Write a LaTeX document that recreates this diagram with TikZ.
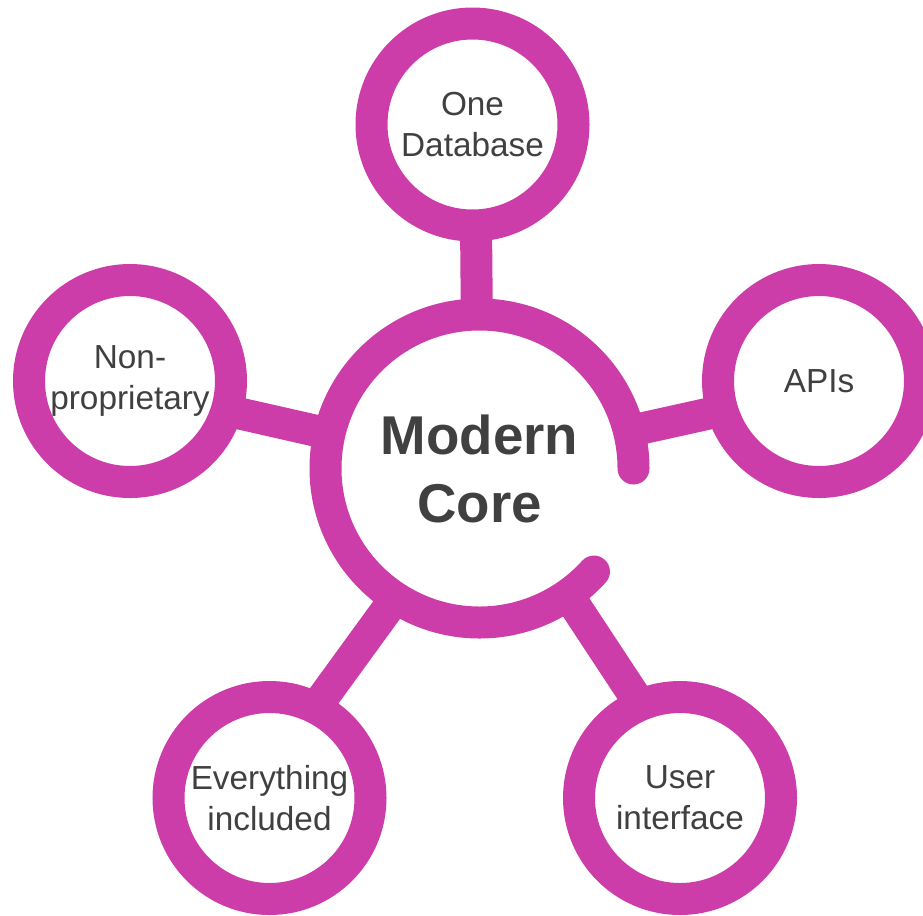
\documentclass[tikz,border=0pt]{standalone}
\usepackage{fontspec}
\setmainfont{Liberation Sans}
\usepackage{tikz}
\usetikzlibrary{backgrounds}
\definecolor{orchid}{RGB}{204,61,170}
\definecolor{inkgray}{RGB}{64,64,64}
\tikzstyle{topic} = [circle, draw=orchid, fill=white, line width=24pt,
minimum size=151.5pt, inner sep=0pt, outer sep=0pt, align=center,
text=inkgray, font=\fontsize{25}{30.5}\selectfont]
\tikzstyle{hub} = [circle, minimum size=231pt, inner sep=0pt, outer sep=0pt,
align=center, text=inkgray, font=\fontsize{41}{51}\selectfont\bfseries]
\tikzstyle{spoke} = [draw=orchid, line width=24pt]
\tikzstyle{ring} = [draw=orchid, line width=24pt, line cap=round]

\begin{document}
\begin{tikzpicture}[x=0.75pt, y=0.75pt]
\useasboundingbox (0,0) rectangle (923,-915);
% Place nodes
\node [hub] (core) at (479.5,-468.5) {Modern\\Core};
\node [topic] (db) at (472.5,-124.5) {One\\Database};
\node [topic] (apis) at (819,-381) {APIs};
\node [topic] (nonprop) at (130,-381) {Non-\\proprietary};
\node [topic] (ui) at (680,-798) {User\\interface};
\node [topic] (everything) at (269.5,-798) {Everything\\included};
% open ring round the core
\path [ring] (core.0) arc[start angle=0, end angle=318, radius=115.5pt];
% spokes
\begin{scope}[on background layer]
\path [spoke] (core.91) -- (db.-88);
\path [spoke] (core.14) -- (apis.197);
\path [spoke] (core.167) -- (nonprop.-17);
\path [spoke] (core.-55) -- (ui.113);
\path [spoke] (core.-123) -- (everything.63);
\end{scope}
\end{tikzpicture}
\end{document}
